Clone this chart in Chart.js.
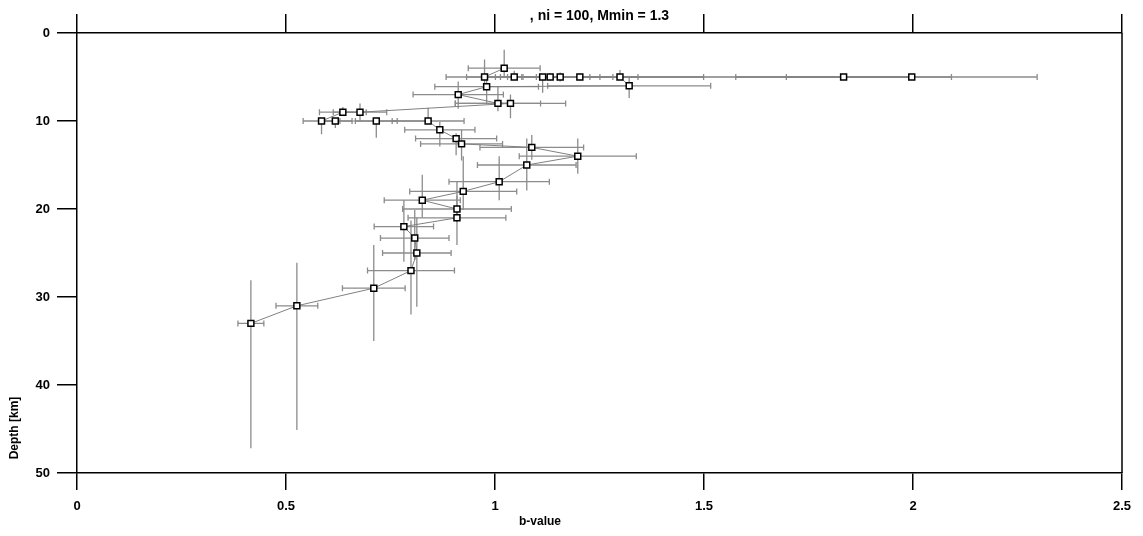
<!DOCTYPE html>
<html>
<head>
<meta charset="utf-8">
<title>b-value vs depth</title>
<script src="https://cdn.jsdelivr.net/npm/chart.js@4.4.1/dist/chart.umd.min.js"></script>
<style>
  html, body { margin: 0; padding: 0; background: #fff; }
  #wrap { width: 1143px; height: 536px; }
</style>
</head>
<body>
<div id="wrap"><canvas id="bChart" width="1143" height="536"></canvas></div>
<script>
// b-value per depth window, in the order the samples are linked
const bValue = [1.022, 0.975, 1.046, 1.114, 1.132, 1.156, 1.203, 1.997, 1.834, 1.299,
    1.321, 0.980, 0.912, 1.007, 1.037, 0.677, 0.636, 0.585, 0.618, 0.716,
    0.840, 0.868, 0.907, 0.920, 1.088, 1.198, 1.076, 1.010, 0.924, 0.826,
    0.909, 0.909, 0.782, 0.808, 0.813, 0.799, 0.710, 0.526, 0.416];
const depth = [4.0, 5.0, 5.0, 5.0, 5.0, 5.0, 5.0, 5.0, 5.0, 5.0,
    6.0, 6.1, 7.0, 8.0, 8.0, 9.0, 9.0, 10.0, 10.0, 10.0,
    10.0, 11.0, 12.0, 12.6, 13.0, 14.0, 15.0, 16.9, 18.0, 19.0,
    20.0, 21.0, 22.0, 23.3, 25.0, 27.0, 29.0, 31.0, 33.0];
// +/- error of b
const bErr = [0.086, 0.092, 0.114, 0.113, 0.119, 0.126, 0.139, 0.300, 0.258, 0.200,
    0.195, 0.124, 0.108, 0.102, 0.132, 0.064, 0.056, 0.044, 0.040, 0.050,
    0.086, 0.084, 0.097, 0.098, 0.124, 0.140, 0.118, 0.120, 0.128, 0.091,
    0.130, 0.117, 0.071, 0.082, 0.082, 0.104, 0.075, 0.050, 0.031];
// depth range of each window
const depthTop = [1.9, 3.0, 4.3, 5.0, 4.6, 4.5, 4.6, 5.0, 5.0, 4.2,
    5.0, 4.6, 5.5, 6.1, 7.0, 8.0, 8.4, 10.0, 10.0, 10.0,
    8.5, 10.1, 11.4, 11.0, 11.6, 12.0, 12.0, 14.0, 14.0, 16.1,
    18.5, 16.9, 19.0, 20.1, 21.0, 21.3, 24.1, 26.1, 28.1];
const depthBottom = [5.0, 5.9, 5.0, 6.8, 5.4, 5.5, 5.4, 5.0, 5.0, 5.0,
    7.4, 8.0, 8.6, 8.9, 9.7, 10.0, 9.0, 11.5, 10.8, 11.9,
    10.0, 12.9, 13.9, 14.5, 14.4, 16.0, 17.9, 19.0, 20.1, 21.0,
    21.5, 24.1, 26.0, 25.8, 31.1, 32.0, 35.0, 45.1, 47.2];

const xTicks = [0, 0.5, 1, 1.5, 2, 2.5];
const yTicks = [0, 10, 20, 30, 40, 50];

const titleText = ', ni = 100, Mmin = 1.3';
const xTitle = 'b-value';
const yTitle = 'Depth [km]';

const fontFamily = '"Liberation Sans", Arial, sans-serif';
const tickFont = { family: fontFamily, size: 13, weight: 'bold' };

const errorBars = {
    id: 'errorBars',
    beforeDatasetsDraw(chart) {
        const ctx = chart.ctx;
        const x = chart.scales.x;
        const y = chart.scales.y;
        ctx.save();
        ctx.strokeStyle = '#8c8c8c';
        ctx.lineWidth = 1.3;
        bValue.forEach((b, i) => {
            const px = x.getPixelForValue(b);
            const py = y.getPixelForValue(depth[i]);
            const x0 = x.getPixelForValue(b - bErr[i]);
            const x1 = x.getPixelForValue(b + bErr[i]);
            const y0 = y.getPixelForValue(depthTop[i]);
            const y1 = y.getPixelForValue(depthBottom[i]);
            ctx.beginPath();
            ctx.moveTo(x0, py); ctx.lineTo(x1, py);
            ctx.moveTo(x0, py - 3); ctx.lineTo(x0, py + 3);
            ctx.moveTo(x1, py - 3); ctx.lineTo(x1, py + 3);
            if (y1 > y0) {
                ctx.moveTo(px, y0); ctx.lineTo(px, y1);
            }
            ctx.stroke();
        });
        ctx.restore();
    },
    afterDraw(chart) {
        const ctx = chart.ctx;
        const area = chart.chartArea;
        ctx.save();
        // right frame line
        ctx.strokeStyle = '#000';
        ctx.lineWidth = 1.5;
        ctx.beginPath();
        ctx.moveTo(area.right, area.top);
        ctx.lineTo(area.right, area.bottom);
        ctx.stroke();
        // title and axis titles
        ctx.fillStyle = '#000';
        ctx.textAlign = 'center';
        ctx.textBaseline = 'middle';
        ctx.font = 'bold 14px ' + fontFamily;
        ctx.fillText(titleText, (area.left + area.right) / 2, 16);
        ctx.font = 'bold 12px ' + fontFamily;
        ctx.fillText(xTitle, 540, 522);
        ctx.translate(15, 428);
        ctx.rotate(-Math.PI / 2);
        ctx.fillText(yTitle, 0, 0);
        ctx.restore();
    }
};

const axisGrid = (len) => ({
    drawOnChartArea: false,
    drawTicks: true,
    tickLength: len,
    color: '#000',
    lineWidth: 1.5
});
const axisBorder = { display: true, color: '#000', width: 1.5 };

new Chart(document.getElementById('bChart'), {
    type: 'scatter',
    data: {
        datasets: [{
            data: bValue.map((b, i) => ({ x: b, y: depth[i] })),
            showLine: true,
            borderColor: '#808080',
            borderWidth: 1,
            pointStyle: 'rect',
            pointRadius: 4.2,
            pointBackgroundColor: '#fff',
            pointBorderColor: '#000',
            pointBorderWidth: 1.5,
            xAxisID: 'x',
            yAxisID: 'y'
        }]
    },
    options: {
        responsive: false,
        animation: false,
        events: [],
        layout: { padding: { left: 0, right: 21, top: 0, bottom: 0 } },
        plugins: {
            legend: { display: false },
            tooltip: { enabled: false },
            title: { display: false }
        },
        scales: {
            x: {
                type: 'linear',
                position: 'bottom',
                min: 0,
                max: 2.5,
                afterBuildTicks: s => { s.ticks = xTicks.map(v => ({ value: v })); },
                ticks: { color: '#000', font: tickFont, padding: 9, maxRotation: 0, callback: v => String(v) },
                grid: axisGrid(17),
                border: axisBorder,
                afterFit: s => { s.height = 63; }
            },
            xTop: {
                type: 'linear',
                position: 'top',
                min: 0,
                max: 2.5,
                afterBuildTicks: s => { s.ticks = xTicks.map(v => ({ value: v })); },
                ticks: { display: false },
                grid: axisGrid(19),
                border: axisBorder,
                afterFit: s => { s.height = 33; }
            },
            y: {
                type: 'linear',
                position: 'left',
                reverse: true,
                min: 0,
                max: 50,
                afterBuildTicks: s => { s.ticks = yTicks.map(v => ({ value: v })); },
                ticks: { color: '#000', font: tickFont, padding: 7, callback: v => String(v) },
                grid: axisGrid(20),
                border: axisBorder,
                afterFit: s => { s.width = 77; }
            }
        }
    },
    plugins: [errorBars]
});
</script>
</body>
</html>
